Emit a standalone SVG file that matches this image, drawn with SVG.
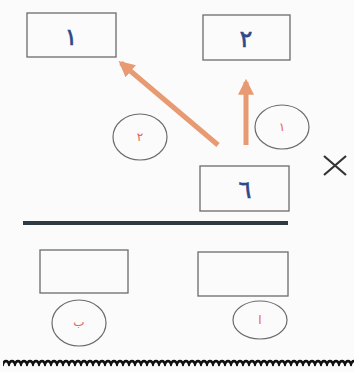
<svg xmlns="http://www.w3.org/2000/svg" width="354" height="372" viewBox="0 0 354 372">
<style>
.box{fill:none;stroke:#6b6b6b;stroke-width:1.3}
.circ{fill:none;stroke:#6b6b6b;stroke-width:1.2}
.num{font-family:"DejaVu Sans",sans-serif;font-size:24px;fill:#2c4a8a;stroke:#2c4a8a;stroke-width:0.6;text-anchor:middle}
.lbl{font-family:"DejaVu Sans",sans-serif;font-size:12px;fill:#e8605a;text-anchor:middle}
.arrow{stroke:#e89a72;stroke-width:5;fill:none}
</style>
<defs>
<marker id="ah" viewBox="0 0 10 10" refX="8" refY="5" markerWidth="3.2" markerHeight="3.2" orient="auto" markerUnits="strokeWidth">
<path d="M0,0 L10,5 L0,10 Z" fill="#e89a72"/>
</marker>
<pattern id="wave" x="3" y="358" width="6" height="12" patternUnits="userSpaceOnUse">
<path d="M-0.5,8 C0.5,1.5 5.5,1.5 6.5,8" fill="none" stroke="#111" stroke-width="2.6"/>
</pattern>
</defs>
<rect width="354" height="372" fill="#fbfbfb"/>
<g id="connectors">
<line class="arrow" x1="218" y1="145" x2="121" y2="63" marker-end="url(#ah)"/>
<line class="arrow" x1="246" y1="145" x2="246" y2="82" marker-end="url(#ah)"/>
</g>
<g id="node-box1"><rect class="box" x="27" y="13" width="89" height="44"/><text class="num" x="71" y="45">١</text></g>
<g id="node-box2"><rect class="box" x="203" y="15" width="87" height="45"/><text class="num" x="246" y="47">٢</text></g>
<g id="node-circle-left"><ellipse class="circ" cx="140" cy="137" rx="27" ry="23"/><text class="lbl" x="140" y="141">٢</text></g>
<g id="node-circle-right"><ellipse class="circ" cx="282" cy="127" rx="27" ry="22"/><text class="lbl" x="282" y="131">١</text></g>
<g id="node-box6"><rect class="box" x="200" y="166" width="89" height="45"/><text class="num" x="245" y="198">٦</text></g>
<g id="cross"><path d="M324,156 L346,175 M346,156 L324,175" stroke="#333" stroke-width="2.2"/></g>
<g id="divider"><line x1="23" y1="223" x2="288" y2="223" stroke="#2f3a44" stroke-width="4"/></g>
<g id="node-box-bottom-left"><rect class="box" x="40" y="250" width="88" height="43"/></g>
<g id="node-box-bottom-right"><rect class="box" x="198" y="252" width="90" height="44"/></g>
<g id="node-circle-bottom-left"><ellipse class="circ" cx="79" cy="323" rx="27" ry="23"/><text class="lbl" x="79" y="326">ب</text></g>
<g id="node-circle-bottom-right"><ellipse class="circ" cx="260" cy="320" rx="27" ry="19"/><text class="lbl" x="260" y="324">ا</text></g>
<rect x="3" y="358" width="351" height="12" fill="url(#wave)"/>
</svg>
